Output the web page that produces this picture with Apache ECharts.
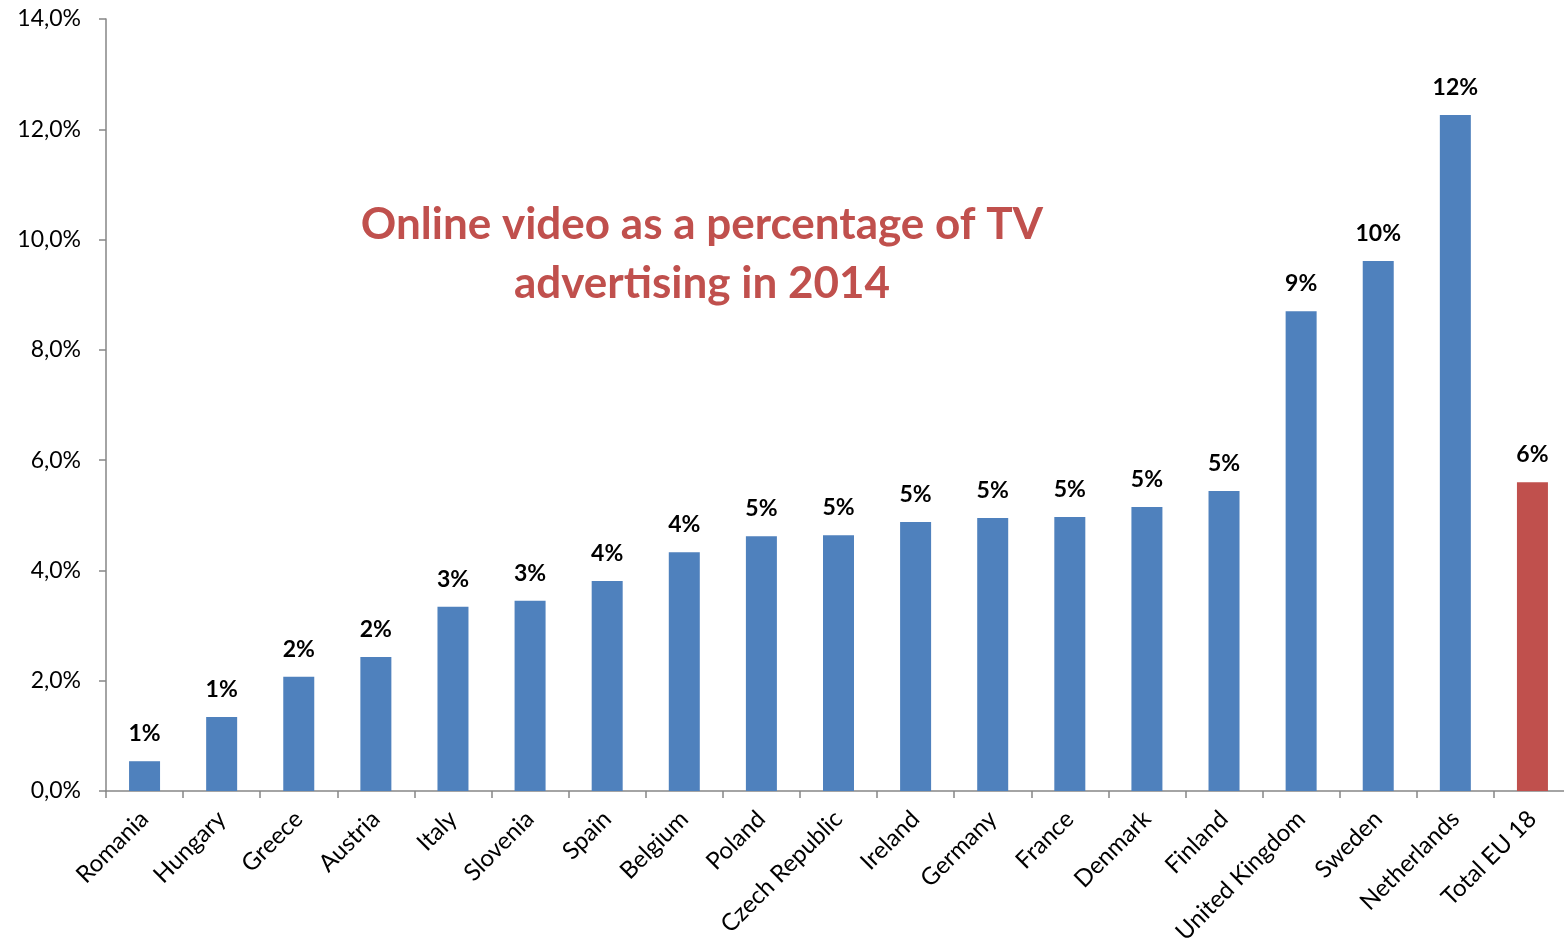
<!DOCTYPE html>
<html>
<head>
<meta charset="utf-8">
<script src="https://cdn.jsdelivr.net/npm/echarts@6/dist/echarts.min.js"></script>
<style>
  html, body { margin: 0; padding: 0; background: #fff; }
  #chart { width: 1564px; height: 950px; }
</style>
</head>
<body>
<div id="chart"></div>
<script>
// Online video share of TV advertising, per country, 2014 (%)
const countries = ['Romania', 'Hungary', 'Greece', 'Austria', 'Italy', 'Slovenia', 'Spain', 'Belgium',
  'Poland', 'Czech Republic', 'Ireland', 'Germany', 'France', 'Denmark', 'Finland',
  'United Kingdom', 'Sweden', 'Netherlands', 'Total EU 18'];
const shares = [0.54, 1.34, 2.07, 2.43, 3.34, 3.45, 3.81, 4.33, 4.62, 4.64, 4.88, 4.95, 4.97, 5.15, 5.44,
  8.70, 9.61, 12.26, 5.60];
const totalLabel = 'Total EU 18';
const titleLines = ['Online video as a percentage of TV', 'advertising in 2014'];

const BLUE = '#4F81BD';
const RED = '#C0504D';
const FONT = 'Lato, "Open Sans", sans-serif';

const chart = echarts.init(document.getElementById('chart'));
chart.setOption({
  animation: false,
  title: {
    text: titleLines.join('\n'),
    left: 697,
    top: 190,
    textAlign: 'center',
    textStyle: {
      color: RED,
      fontFamily: FONT,
      fontWeight: 'bold',
      fontSize: 44,
      lineHeight: 59
    }
  },
  grid: { left: 106, width: 1465, top: 19, bottom: 159, outerBoundsMode: 'none', containLabel: false },
  xAxis: {
    type: 'category',
    data: countries,
    axisLine: { lineStyle: { color: '#868686', width: 1.5 } },
    axisTick: { show: true, length: 7, lineStyle: { color: '#868686', width: 1.5 } },
    axisLabel: {
      rotate: 45,
      interval: 0,
      margin: 24,
      color: '#000',
      fontFamily: FONT,
      fontSize: 24
    }
  },
  yAxis: {
    type: 'value',
    min: 0,
    max: 14,
    interval: 2,
    axisLine: { show: true, lineStyle: { color: '#868686', width: 1.5 } },
    axisTick: { show: true, length: 7, lineStyle: { color: '#868686', width: 1.5 } },
    splitLine: { show: false },
    axisLabel: {
      margin: 25,
      color: '#000',
      fontFamily: FONT,
      fontSize: 23,
      formatter: v => v.toFixed(1).replace('.', ',') + '%'
    }
  },
  series: [{
    type: 'bar',
    barWidth: 31,
    data: shares.map((v, i) => ({
      value: v,
      itemStyle: { color: countries[i] === totalLabel ? RED : BLUE }
    })),
    label: {
      show: true,
      position: 'top',
      distance: 16,
      color: '#000',
      fontFamily: FONT,
      fontWeight: 'bold',
      fontSize: 23,
      formatter: p => Math.round(p.value) + '%'
    }
  }]
});
</script>
</body>
</html>
